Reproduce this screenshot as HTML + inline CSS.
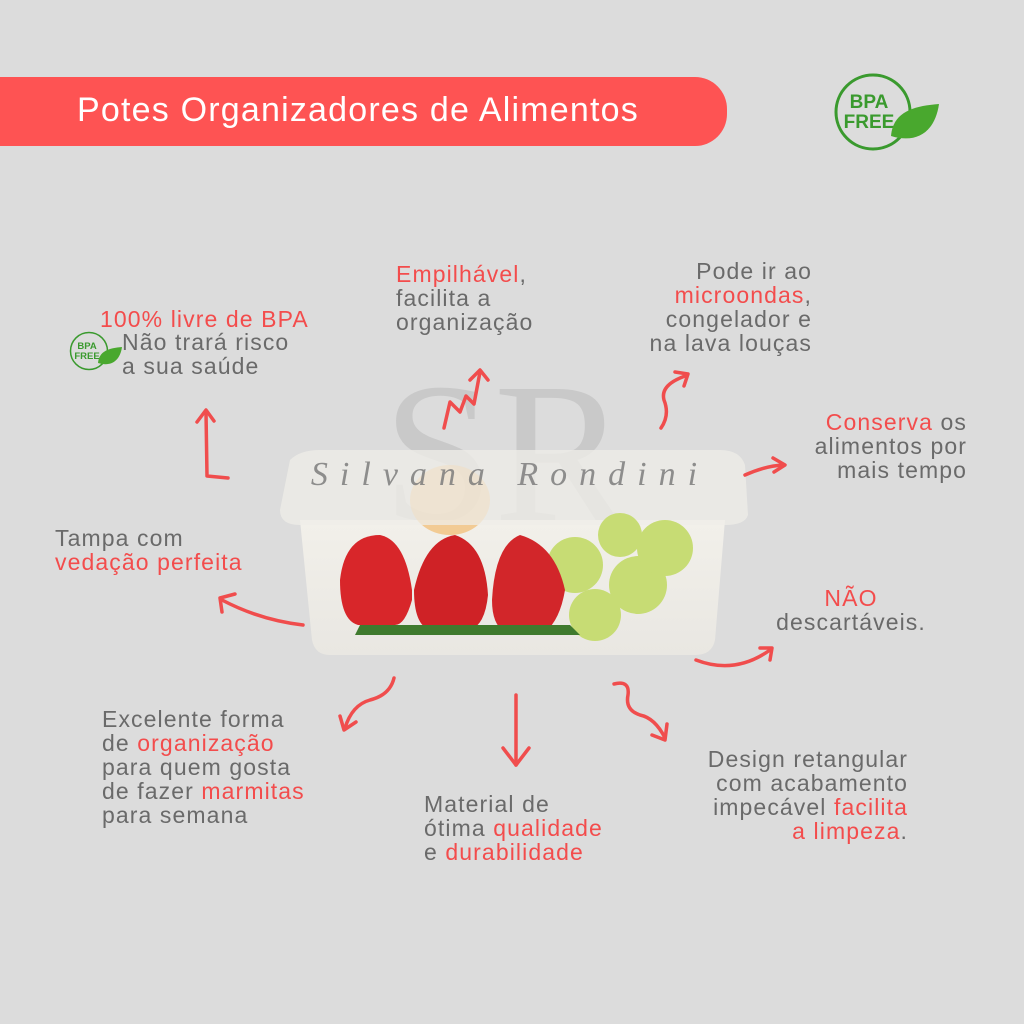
<!DOCTYPE html>
<html><head><meta charset="utf-8"><style>
body{margin:0;width:1024px;height:1024px;background:#dcdcdc;position:relative;overflow:hidden;font-family:"Liberation Sans",sans-serif}
.t{position:absolute;font-size:23px;line-height:24px;color:#6a6a6a;letter-spacing:1.1px;white-space:nowrap}
.r{color:#f34c4c}
.banner{position:absolute;left:0;top:77px;width:727px;height:69px;background:#fe5353;border-radius:0 32px 32px 0}
.banner span{position:absolute;left:77px;top:14px;color:#fff;font-size:34px;letter-spacing:1.2px}
</style></head><body>
<div class="banner"><span>Potes Organizadores de Alimentos</span></div>

<svg style="position:absolute;left:0;top:0" width="1024" height="1024">
<defs>
<linearGradient id="box" x1="0" y1="0" x2="0" y2="1"><stop offset="0" stop-color="#f2f0ea"/><stop offset="1" stop-color="#e9e7e2"/></linearGradient>
</defs>
<g transform="translate(873,112)">
<circle r="37" fill="none" stroke="#3a9a2e" stroke-width="3"/>
<text x="-4" y="-4" text-anchor="middle" font-family="Liberation Sans" font-weight="bold" font-size="19" fill="#3a9a2e">BPA</text>
<text x="-4" y="16" text-anchor="middle" font-family="Liberation Sans" font-weight="bold" font-size="19" fill="#3a9a2e">FREE</text>
<path d="M18,24 C20,0 40,-6 66,-8 C62,20 44,32 18,24Z" fill="#49a82e"/>
</g>
<g transform="translate(89,351) scale(0.5)">
<circle r="37" fill="none" stroke="#3a9a2e" stroke-width="3"/>
<text x="-4" y="-4" text-anchor="middle" font-family="Liberation Sans" font-weight="bold" font-size="19" fill="#3a9a2e">BPA</text>
<text x="-4" y="16" text-anchor="middle" font-family="Liberation Sans" font-weight="bold" font-size="19" fill="#3a9a2e">FREE</text>
<path d="M18,24 C20,0 40,-6 66,-8 C62,20 44,32 18,24Z" fill="#49a82e"/>
</g>
<text x="505" y="520" text-anchor="middle" font-family="Liberation Serif" font-size="200" fill="#bbb" opacity="0.55">SR</text>
<path d="M300,520 L725,520 L715,640 Q712,655 695,655 L330,655 Q315,655 312,640Z" fill="url(#box)"/>
<ellipse cx="450" cy="500" rx="40" ry="35" fill="#f3b35a" opacity="0.6"/>
<path d="M290,460 Q300,450 320,450 L720,450 Q740,450 745,465 L748,515 Q745,525 725,525 L300,525 Q280,525 280,510Z" fill="#efede8" opacity="0.75"/>
<g fill="#c7dc74">
<circle cx="575" cy="565" r="28"/><circle cx="638" cy="585" r="29"/><circle cx="595" cy="615" r="26"/><circle cx="665" cy="548" r="28"/><circle cx="620" cy="535" r="22"/>
</g>
<path d="M358,625 L395,625 Q405,625 412,600 L412,590 Q405,540 380,535 Q345,535 340,580 Q340,620 358,625Z" fill="#d8262a"/>
<path d="M430,630 L470,630 Q485,625 488,595 Q485,545 455,535 Q425,540 414,590 Q414,625 430,630Z" fill="#cf2226"/>
<path d="M505,632 L545,632 Q560,620 565,590 Q555,545 520,535 Q495,545 492,600 Q492,625 505,632Z" fill="#d2262a"/>
<path d="M355,635 L580,635 L570,625 L360,625Z" fill="#3f7a2e"/>
<text x="510" y="485" text-anchor="middle" font-family="Liberation Serif" font-style="italic" font-size="34" letter-spacing="12" fill="#777" opacity="0.8">Silvana Rondini</text>
<g fill="none" stroke="#f04d4d" stroke-width="3.5" stroke-linecap="round" stroke-linejoin="round">
<path d="M228,478 L207,476 L206,412"/><path d="M197,422 L206,410 L214,421"/>
<path d="M444,428 L450,402 L460,412 L466,396 L474,404 L480,372"/><path d="M470,380 L480,370 L488,380"/>
<path d="M661,428 Q670,415 664,400 Q660,385 685,376"/><path d="M675,372 L688,374 L684,386"/>
<path d="M745,475 Q765,466 783,465"/><path d="M773,458 L785,465 L774,472"/>
<path d="M303,625 Q260,620 222,600"/><path d="M222,612 L220,598 L235,594"/>
<path d="M394,678 Q390,695 370,700 Q352,705 345,728"/><path d="M340,716 L344,730 L356,722"/>
<path d="M516,695 L516,765"/><path d="M503,748 L516,765 L529,748"/>
<path d="M614,684 Q630,680 628,695 Q625,710 640,715 Q655,718 665,738"/><path d="M667,724 L665,740 L652,735"/>
<path d="M696,660 Q735,675 770,650"/><path d="M760,648 L772,648 L770,660"/>
</g>
</svg>

<div class="t" style="left:100px;top:307px"><span class="r">100% livre de BPA</span></div>
<div class="t" style="left:122px;top:330px">Não trará risco<br>a sua saúde</div>
<div class="t" style="left:396px;top:262px"><span class="r">Empilhável</span>,<br>facilita a<br>organização</div>
<div class="t" style="right:212px;top:259px;text-align:right">Pode ir ao<br><span class="r">microondas</span>,<br>congelador e<br>na lava louças</div>
<div class="t" style="right:57px;top:410px;text-align:right"><span class="r">Conserva</span> os<br>alimentos por<br>mais tempo</div>
<div class="t" style="left:55px;top:526px">Tampa com<br><span class="r">vedação perfeita</span></div>
<div class="t" style="left:760px;top:586px;width:182px;text-align:center"><span class="r">NÃO</span><br>descartáveis.</div>
<div class="t" style="left:102px;top:707px">Excelente forma<br>de <span class="r">organização</span><br>para quem gosta<br>de fazer <span class="r">marmitas</span><br>para semana</div>
<div class="t" style="left:424px;top:792px">Material de<br>ótima <span class="r">qualidade</span><br>e <span class="r">durabilidade</span></div>
<div class="t" style="right:116px;top:747px;text-align:right">Design retangular<br>com acabamento<br>impecável <span class="r">facilita</span><br><span class="r">a limpeza</span>.</div>
</body></html>
